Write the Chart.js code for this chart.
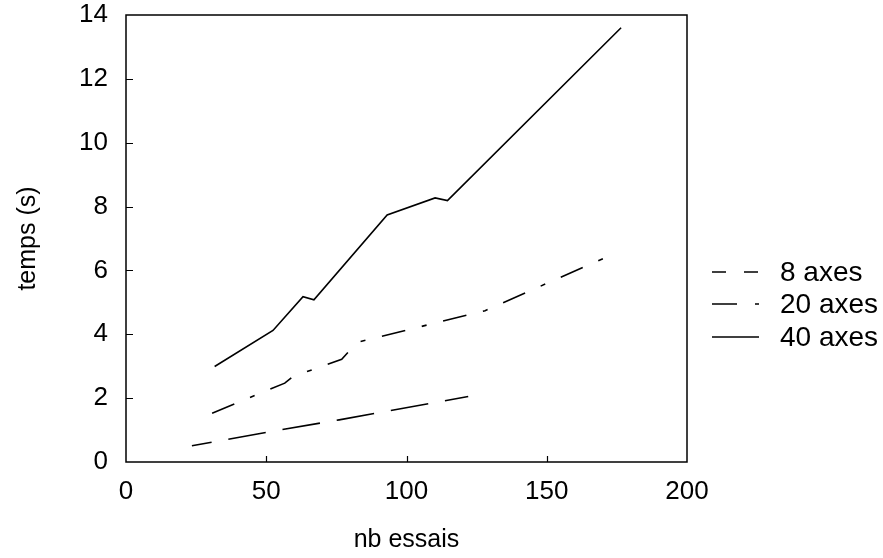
<!DOCTYPE html>
<html>
<head>
<meta charset="utf-8">
<script src="https://cdn.jsdelivr.net/npm/chart.js@4.4.0/dist/chart.umd.min.js"></script>
<style>
  html, body { margin: 0; padding: 0; background: #ffffff; }
  #chart { display: block; }
</style>
</head>
<body>
<canvas id="chart" width="883" height="558"></canvas>
<script>
// values
const seriesNames = ['8 axes', '20 axes', '40 axes'];

const essais8 = [23.5, 52, 76, 122];
const temps8 = [0.51, 0.96, 1.32, 2.05];

const essais20 = [30.7, 56.6, 59.4, 76.9, 79.6, 83, 128, 172.1];
const temps20 = [1.53, 2.47, 2.67, 3.22, 3.48, 3.76, 4.74, 6.45];

const essais40 = [31.6, 52.4, 63.1, 67, 93.1, 110.2, 114.6, 176.5];
const temps40 = [2.99, 4.12, 5.18, 5.08, 7.74, 8.27, 8.19, 13.6];

const xTicks = [0, 50, 100, 150, 200];
const yTicks = [0, 2, 4, 6, 8, 10, 12, 14];

const FONT = '"Liberation Sans", Arial, Helvetica, sans-serif';

function points(xs, ys) {
    return xs.map((x, i) => ({ x: x, y: ys[i] }));
}

// frame, inward ticks and the legend on the right
const framePlugin = {
    id: 'frame',
    afterDraw(chart) {
        const ctx = chart.ctx;
        const a = chart.chartArea;
        const xs = chart.scales.x;
        const ys = chart.scales.y;
        ctx.save();
        ctx.strokeStyle = '#000';
        ctx.lineWidth = 1.5;
        ctx.setLineDash([]);
        ctx.strokeRect(a.left, a.top, a.right - a.left, a.bottom - a.top);

        ctx.lineWidth = 1.2;
        ctx.beginPath();
        xTicks.slice(1, -1).forEach(v => {
            const px = Math.round(xs.getPixelForValue(v)) + 0.5;
            ctx.moveTo(px, a.bottom);
            ctx.lineTo(px, a.bottom - 6);
        });
        yTicks.slice(1, -1).forEach(v => {
            const py = Math.round(ys.getPixelForValue(v)) + 0.5;
            ctx.moveTo(a.left, py);
            ctx.lineTo(a.left + 7, py);
        });
        ctx.stroke();

        // legend
        const dashes = [[14, 18], [25, 18, 5, 18], []];
        const rowsY = [272, 304, 337];
        ctx.lineWidth = 1.4;
        ctx.fillStyle = '#000';
        ctx.font = '28px ' + FONT;
        ctx.textBaseline = 'middle';
        ctx.textAlign = 'left';
        seriesNames.forEach((name, i) => {
            ctx.setLineDash(dashes[i]);
            ctx.beginPath();
            ctx.moveTo(712, rowsY[i]);
            ctx.lineTo(759, rowsY[i]);
            ctx.stroke();
            ctx.fillText(name, 780, rowsY[i] + 1);
        });
        ctx.restore();
    }
};

const ctx = document.getElementById('chart').getContext('2d');

new Chart(ctx, {
    type: 'line',
    data: {
        datasets: [
            {
                label: seriesNames[0],
                data: points(essais8, temps8),
                borderColor: '#000',
                borderWidth: 1.6,
                borderDash: [38, 17],
                borderDashOffset: 18,
                pointRadius: 0,
                fill: false,
                tension: 0
            },
            {
                label: seriesNames[1],
                data: points(essais20, temps20),
                borderColor: '#000',
                borderWidth: 1.6,
                borderDash: [24, 17, 5, 17],
                pointRadius: 0,
                fill: false,
                tension: 0
            },
            {
                label: seriesNames[2],
                data: points(essais40, temps40),
                borderColor: '#000',
                borderWidth: 1.6,
                pointRadius: 0,
                fill: false,
                tension: 0
            }
        ]
    },
    options: {
        responsive: false,
        animation: false,
        devicePixelRatio: 1,
        layout: {
            padding: { left: 0, right: 196, top: 0, bottom: 0 }
        },
        plugins: {
            legend: { display: false },
            tooltip: { enabled: false }
        },
        scales: {
            x: {
                type: 'linear',
                min: 0,
                max: 200,
                afterBuildTicks: scale => { scale.ticks = xTicks.map(v => ({ value: v })); },
                afterFit: scale => {
                    scale.height = 96;
                    scale.paddingLeft = 0;
                    scale.paddingRight = 0;
                },
                grid: { display: false, drawTicks: false },
                border: { display: false },
                ticks: {
                    color: '#000',
                    padding: 14,
                    font: { family: FONT, size: 26 }
                },
                title: {
                    display: true,
                    text: 'nb essais',
                    color: '#000',
                    font: { family: FONT, size: 25 },
                    padding: { top: 0, bottom: 3 }
                }
            },
            y: {
                type: 'linear',
                min: 0,
                max: 14,
                afterBuildTicks: scale => { scale.ticks = yTicks.map(v => ({ value: v })); },
                afterFit: scale => {
                    scale.width = 126;
                    scale.paddingTop = 15;
                    scale.paddingBottom = 0;
                },
                grid: { display: false, drawTicks: false },
                border: { display: false },
                ticks: {
                    color: '#000',
                    padding: 18,
                    font: { family: FONT, size: 26 }
                },
                title: {
                    display: true,
                    text: 'temps (s)',
                    color: '#000',
                    font: { family: FONT, size: 25 },
                    padding: { top: 13, bottom: 0 }
                }
            }
        }
    },
    plugins: [framePlugin]
});
</script>
</body>
</html>
